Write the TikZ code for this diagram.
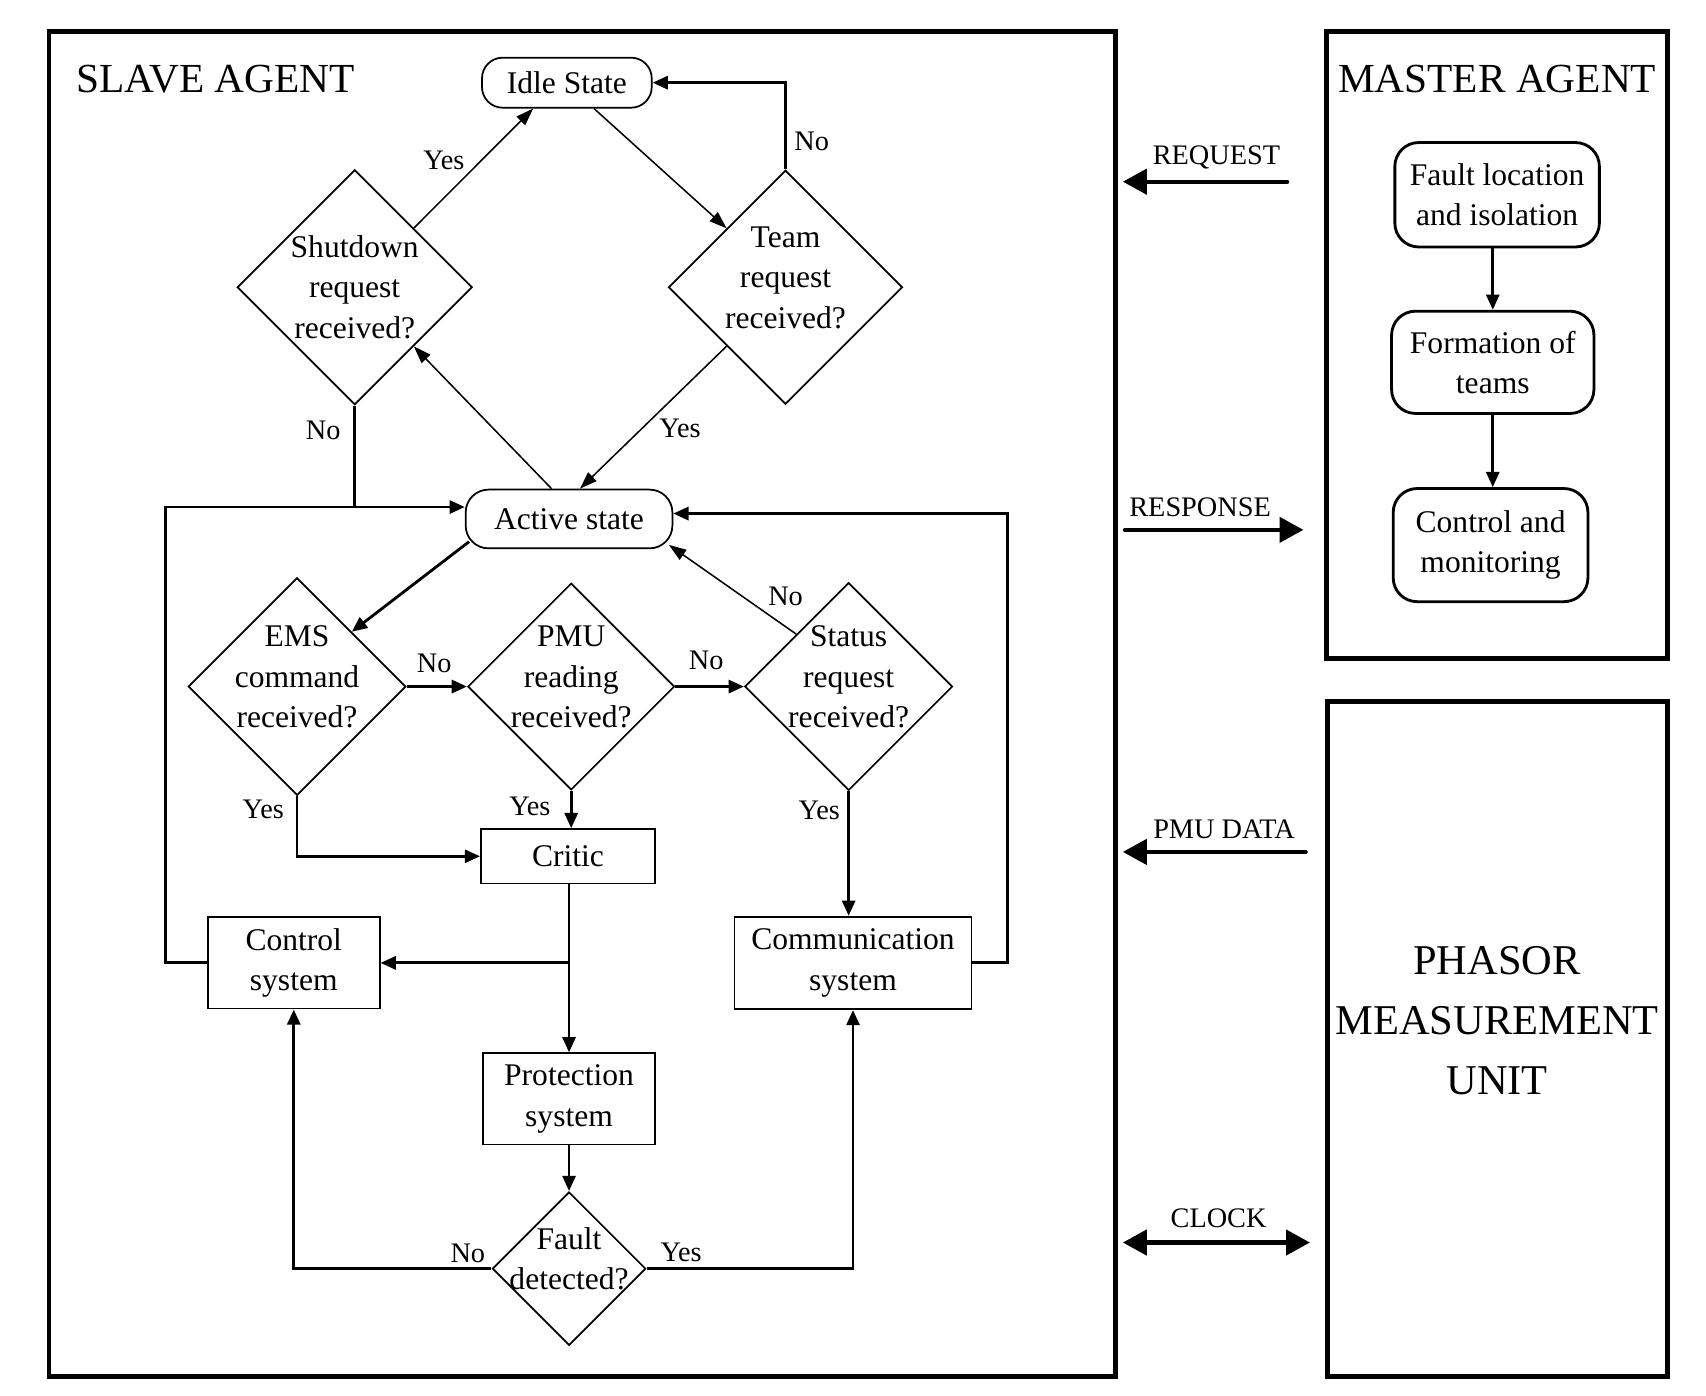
\documentclass[tikz,border=0pt]{standalone}
\usepackage{fontspec}
\setmainfont{Liberation Serif}
\usetikzlibrary{arrows.meta,shapes.geometric}
\tikzset{
  frame/.style={draw=black, line width=4.5pt, inner sep=0pt},
  txt/.style={font=\fontsize{29}{37}\selectfont, align=center},
  statebox/.style={txt, draw=black, line width=1.6pt, rounded corners=19pt},
  procbox/.style={txt, draw=black, line width=1.6pt, inner sep=0pt},
  decision/.style={txt, draw=black, diamond, aspect=1, line width=1.6pt, inner sep=-9pt},
  lift/.style={text depth=18pt},
  masterbox/.style={txt, draw=black, line width=2.6pt, rounded corners=22pt, inner sep=0pt},
  link/.style={draw=black, line width=2.6pt},
  flow/.style={draw=black, line width=1.4pt, -{Triangle[length=16pt,width=11pt]}},
  flowb/.style={link, -{Triangle[length=14pt,width=12pt]}},
  bus/.style={draw=black, line width=4pt, line cap=round},
  lab/.style={font=\fontsize{26}{30}\selectfont, inner sep=0pt},
  title/.style={font=\fontsize{38}{45}\selectfont, inner sep=0pt},
}
\begin{document}
\begin{tikzpicture}[x=1pt,y=-1pt]
  \useasboundingbox (0,0) rectangle (1568,1283);
  % outer blocks
  \node[frame, minimum width=980pt, minimum height=1236pt] (slave) at (535,647) {};
  \node[frame, minimum width=314pt, minimum height=576pt] (master) at (1376,317) {};
  \node[frame, minimum width=313pt, minimum height=620pt] (pmuunit) at (1376.5,955) {};
  \node[title, anchor=west] (slavetitle) at (70,73) {SLAVE AGENT};
  \node[title] (mastertitle) at (1376,73) {MASTER AGENT};
  \node[title, font=\fontsize{39}{55}\selectfont, align=center] (pmutitle) at (1376,938) {PHASOR\\MEASUREMENT\\UNIT};

  % master agent
  \node[masterbox, minimum width=188pt, minimum height=96pt] (fli) at (1376,179) {Fault location\\and isolation};
  \node[masterbox, minimum width=186pt, minimum height=94pt] (formteams) at (1372,333) {Formation of\\teams};
  \node[masterbox, minimum width=179pt, minimum height=104pt] (ctrlmon) at (1370,501) {Control and\\monitoring};
  \draw[flowb] (formteams.north |- fli.south) -- (formteams.north);
  \draw[flowb] (formteams.south) -- (formteams.south |- ctrlmon.north);

  % slave agent
  \node[statebox, minimum width=156pt, minimum height=46pt] (idle) at (521,76) {Idle State};
  \node[decision, minimum size=216pt] (shut) at (326,264) {Shutdown\\request\\received?};
  \node[decision, lift, minimum size=215pt] (team) at (722,264) {Team\\request\\received?};
  \node[statebox, minimum width=190pt, minimum height=54pt, rounded corners=21pt] (active) at (523,477) {Active state};
  \node[decision, lift, minimum size=200pt] (ems) at (273,631) {EMS\\command\\received?};
  \node[decision, lift, minimum size=190pt] (pmu) at (525,631) {PMU\\reading\\received?};
  \node[decision, lift, minimum size=191pt] (status) at (780,631) {Status\\request\\received?};
  \node[procbox, minimum width=160pt, minimum height=50pt] (critic) at (522,787) {Critic};
  \node[procbox, minimum width=158pt, minimum height=84pt] (ctrl) at (270,885) {Control\\system};
  \node[procbox, minimum width=218pt, minimum height=85pt] (comm) at (784,885) {Communication\\system};
  \node[procbox, minimum width=158pt, minimum height=84pt] (prot) at (523,1010) {Protection\\system};
  \node[decision, lift, inner sep=-12pt, minimum size=141pt] (fault) at (523,1166) {Fault\\detected?};

  \draw[flow] (shut.north east) -- ([xshift=-31pt]idle.south);
  \draw[flow] ([xshift=25pt]idle.south) -- (team.north west);
  \draw[flowb] (team.north) |- (idle.east);
  \draw[flow] (team.south west) -- ([xshift=10pt]active.north);
  \draw[flow] ([xshift=-16pt]active.north) -- (shut.south east);
  \coordinate (loop) at (152,466);
  \draw[link] (shut.south) -- (shut.south |- loop);
  \draw[flowb] (ctrl.west) -| (loop) -- ([yshift=11pt]active.west);
  \draw[flowb] (comm.east) -- ++(32,0) |- ([yshift=5pt]active.east);
  \draw[flowb] ([shift={(4pt,7pt)}]active.south west) -- (ems.north east);
  \draw[flow] (status.north west) -- ([shift={(-4pt,4pt)}]active.south east);
  \draw[flowb] (ems.east) -- (pmu.west);
  \draw[flowb] (pmu.east) -- (status.west);
  \draw[flowb] (ems.south) |- (critic.west);
  \draw[flowb] (pmu.south) -- (pmu.south |- critic.north);
  \draw[flowb] (status.south) -- (status.south |- comm.north);
  \draw[flowb] (critic.south -| prot.north) -- (prot.north);
  \coordinate (split) at (prot.north |- ctrl.east);
  \draw[flowb] (split) -- (ctrl.east);
  \draw[flowb] (prot.south) -- (fault.north);
  \draw[flowb] (fault.west) -| (ctrl.south);
  \draw[flowb] (fault.east) -| (comm.south);

  % branch labels
  \foreach \x/\y/\t [count=\i] in {408/147/Yes, 746/130/No, 625/394/Yes, 297/396/No,
      399/610/No, 649/607/No, 722/548/No, 242/744/Yes, 487/741/Yes, 753/745/Yes,
      430/1152/No, 626/1151/Yes}
    \node[lab] (branch\i) at (\x,\y) {\t};

  % links between blocks
  \coordinate (req-a) at (1183,167);  \coordinate (req-b) at (1032,167);
  \coordinate (res-a) at (1034,487);  \coordinate (res-b) at (1198,487);
  \coordinate (dat-a) at (1200,783);  \coordinate (dat-b) at (1032,783);
  \coordinate (clk-a) at (1032,1142); \coordinate (clk-b) at (1204,1142);
  \draw[bus, -{Triangle[length=22pt,width=23pt]}] (req-a) -- (req-b);
  \draw[bus, -{Triangle[length=22pt,width=23pt]}] (res-a) -- (res-b);
  \draw[bus, -{Triangle[length=22pt,width=23pt]}] (dat-a) -- (dat-b);
  \draw[bus, {Triangle[length=22pt,width=23pt]}-{Triangle[length=22pt,width=23pt]}] (clk-a) -- (clk-b);
  \foreach \x/\y/\t [count=\i] in {1118/145/REQUEST, 1103/466/RESPONSE, 1125/762/PMU DATA, 1120/1120/CLOCK}
    \node[lab] (signal\i) at (\x,\y) {\t};
\end{tikzpicture}
\end{document}
